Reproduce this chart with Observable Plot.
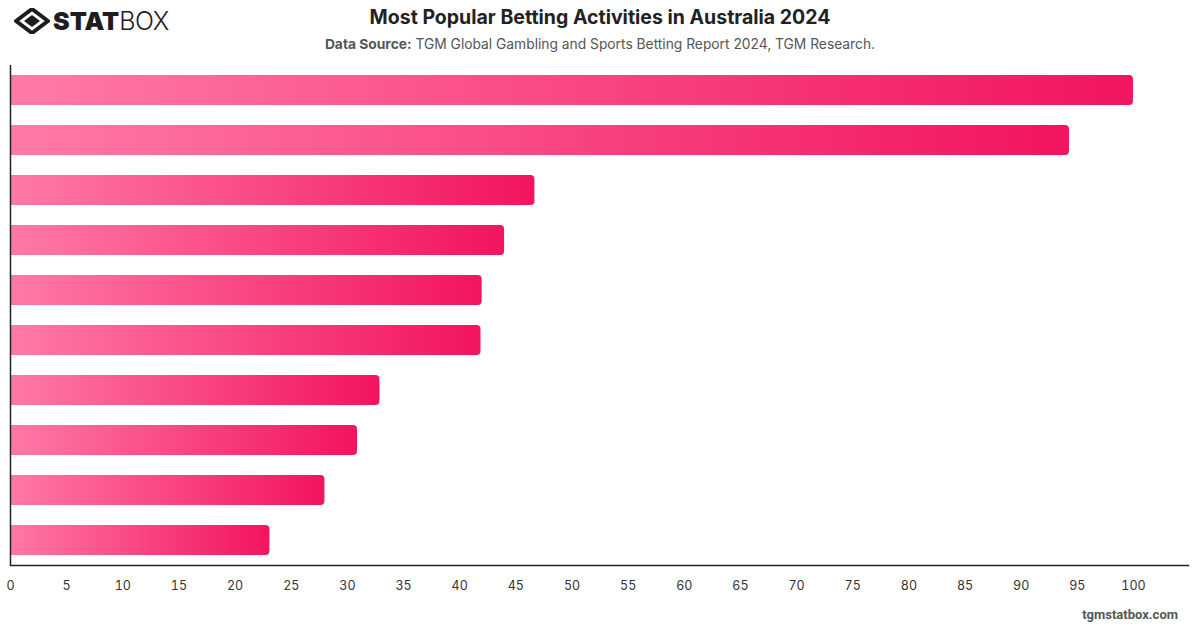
<!DOCTYPE html>
<html>
<head>
<meta charset="utf-8">
<script src="https://cdn.jsdelivr.net/npm/d3@7"></script>
<script src="https://cdn.jsdelivr.net/npm/@observablehq/plot@0.6"></script>
<style>
  html, body { margin: 0; padding: 0; background: #fff; }
  body { width: 1200px; height: 628px; position: relative; overflow: hidden; font-family: Inter, "Open Sans", sans-serif; }
  #logo { position: absolute; left: 14px; top: 8px; display: flex; align-items: center; }
  #logo .word { font-size: 25px; letter-spacing: -0.5px; color: #1d1d1f; line-height: 1; margin-left: 3px; }
  #logo .word b { font-weight: 900; letter-spacing: 0px; }
  #logo .word span { font-weight: 300; }
  #title { position: absolute; left: 0; width: 1200px; top: 5px; text-align: center; font-size: 19.5px; font-weight: 700; color: #222; }
  #subtitle { position: absolute; left: 0; width: 1200px; top: 36px; text-align: center; font-size: 13.8px; color: #555; }
  #subtitle b { font-weight: 700; color: #555; }
  #chart { position: absolute; left: 0; top: 60px; }
  #footer { position: absolute; right: 22px; top: 607px; font-size: 13px; font-weight: 700; color: #555; font-family: Roboto, Inter, sans-serif; }
</style>
</head>
<body>
<div id="logo">
  <svg width="36" height="26" viewBox="0 0 36 26">
    <path d="M18 1 L34 13 L18 25 L2 13 Z" fill="none" stroke="#1d1d1f" stroke-width="4" stroke-linejoin="round"/>
    <path d="M18 7 L26 13 L18 19 L10 13 Z" fill="#1d1d1f"/>
  </svg>
  <div class="word"><b>STAT</b><span>BOX</span></div>
</div>
<div id="title">Most Popular Betting Activities in Australia 2024</div>
<div id="subtitle"><b>Data Source:</b> TGM Global Gambling and Sports Betting Report 2024, TGM Research.</div>
<div id="chart"></div>
<div id="footer">tgmstatbox.com</div>
<script>
// Ranked activities (top to bottom) and their index values
const ranks = ["1", "2", "3", "4", "5", "6", "7", "8", "9", "10"];
const values = [100, 94.3, 46.7, 44.0, 42.0, 41.9, 32.9, 30.9, 28.0, 23.1];
const xTicks = [0, 5, 10, 15, 20, 25, 30, 35, 40, 45, 50, 55, 60, 65, 70, 75, 80, 85, 90, 95, 100];

const data = ranks.map((r, i) => ({rank: r, value: values[i]}));

// Horizontal pink gradient applied to each bar
const gradientDefs = () => {
  const ns = "http://www.w3.org/2000/svg";
  const defs = document.createElementNS(ns, "defs");
  const lg = document.createElementNS(ns, "linearGradient");
  lg.setAttribute("id", "barGrad");
  lg.setAttribute("x1", "0"); lg.setAttribute("x2", "1");
  lg.setAttribute("y1", "0"); lg.setAttribute("y2", "0");
  [["0%", "#ff7ba5"], ["100%", "#f2145f"]].forEach(([o, c]) => {
    const s = document.createElementNS(ns, "stop");
    s.setAttribute("offset", o); s.setAttribute("stop-color", c);
    lg.appendChild(s);
  });
  defs.appendChild(lg);
  return defs;
};

const chart = Plot.plot({
  width: 1200,
  height: 545,
  marginTop: 5,
  marginBottom: 40,
  marginLeft: 10,
  marginRight: 12,
  style: {fontFamily: "Inter, sans-serif", fontSize: "12.5px", color: "#333"},
  x: {domain: [0, 104.9], ticks: xTicks, tickSize: 0, tickPadding: 16, label: null},
  y: {domain: ranks, paddingInner: 0.4, paddingOuter: 0.2, axis: null},
  marks: [
    gradientDefs,
    Plot.barX(data, {x: "value", y: "rank", fill: "url(#barGrad)", rx: 4, insetLeft: -6, clip: true}),
    Plot.ruleX([0], {stroke: "#222", strokeWidth: 1.5}),
    Plot.axisX({ticks: xTicks, tickSize: 0, tickPadding: 16, anchor: "bottom", label: null}),
    Plot.frame({anchor: "bottom", stroke: "#222", strokeWidth: 1.5})
  ]
});
document.getElementById("chart").appendChild(chart);
</script>
</body>
</html>
